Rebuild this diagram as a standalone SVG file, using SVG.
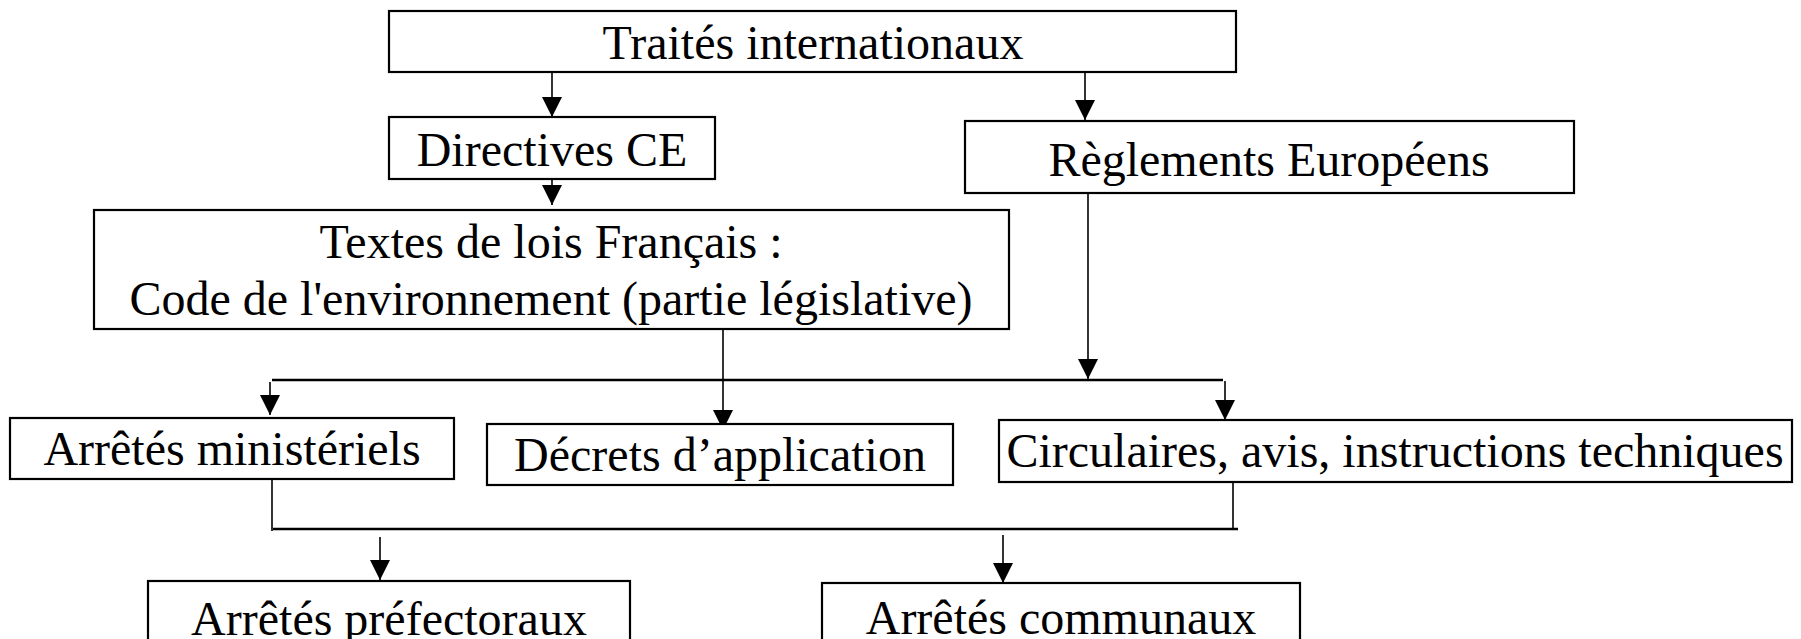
<svg xmlns="http://www.w3.org/2000/svg" width="1801" height="639" viewBox="0 0 1801 639">
<defs>
<marker id="arr" viewBox="0 0 20 20" refX="20" refY="10" markerWidth="20" markerHeight="20" markerUnits="userSpaceOnUse" orient="auto">
<path d="M0,0 L20,10 L0,20 Z" fill="#000"/>
</marker>
</defs>
<style>
.box{fill:#fff;stroke:#000;stroke-width:2.2}
.lbl{font-family:"Liberation Serif","Times New Roman",serif;font-size:48px;fill:#000;text-anchor:middle}
.c{fill:none;stroke:#000;stroke-width:1.6}
.a{fill:none;stroke:#000;stroke-width:1.6;marker-end:url(#arr)}
.bus{fill:none;stroke:#000;stroke-width:2.6}
</style>
<rect width="1801" height="639" fill="#fff"/>
<g id="connectors">
<path class="a" d="M552,72 V117"/>
<path class="a" d="M552,179 V205"/>
<path class="a" d="M1085,72 V120"/>
<path class="a" d="M1088,193 V379"/>
<path class="a" d="M723,329 V430"/>
<path class="bus" d="M272,380 H1223"/>
<path class="a" d="M270,382 V415"/>
<path class="a" d="M1225,381 V420"/>
<path class="c" d="M272,479 V531"/>
<path class="bus" d="M273,529 H1238"/>
<path class="c" d="M1233,482 V529"/>
<path class="a" d="M380,537 V580"/>
<path class="a" d="M1003,535 V583"/>
</g>
<g id="traites">
<rect class="box" x="389" y="11" width="847" height="61"/>
<text class="lbl" x="813" y="59">Traités internationaux</text>
</g>
<g id="directives">
<rect class="box" x="389" y="117" width="326" height="62"/>
<text class="lbl" x="552" y="166">Directives CE</text>
</g>
<g id="reglements">
<rect class="box" x="965" y="121" width="609" height="72"/>
<text class="lbl" x="1269" y="176">Règlements Européens</text>
</g>
<g id="textes">
<rect class="box" x="94" y="210" width="915" height="119"/>
<text class="lbl" x="551" y="258">Textes de lois Français :</text>
<text class="lbl" x="551" y="315">Code de l'environnement (partie législative)</text>
</g>
<g id="ministeriels">
<rect class="box" x="10" y="418" width="444" height="61"/>
<text class="lbl" x="232" y="465">Arrêtés ministériels</text>
</g>
<g id="decrets">
<rect class="box" x="487" y="424" width="466" height="61"/>
<text class="lbl" x="720" y="471">Décrets d’application</text>
</g>
<g id="circulaires">
<rect class="box" x="999" y="420" width="793" height="62"/>
<text class="lbl" x="1395" y="467">Circulaires, avis, instructions techniques</text>
</g>
<g id="prefectoraux">
<rect class="box" x="148" y="581" width="482" height="70"/>
<text class="lbl" x="389" y="635">Arrêtés préfectoraux</text>
</g>
<g id="communaux">
<rect class="box" x="822" y="583" width="478" height="70"/>
<text class="lbl" x="1061" y="634">Arrêtés communaux</text>
</g>
</svg>
